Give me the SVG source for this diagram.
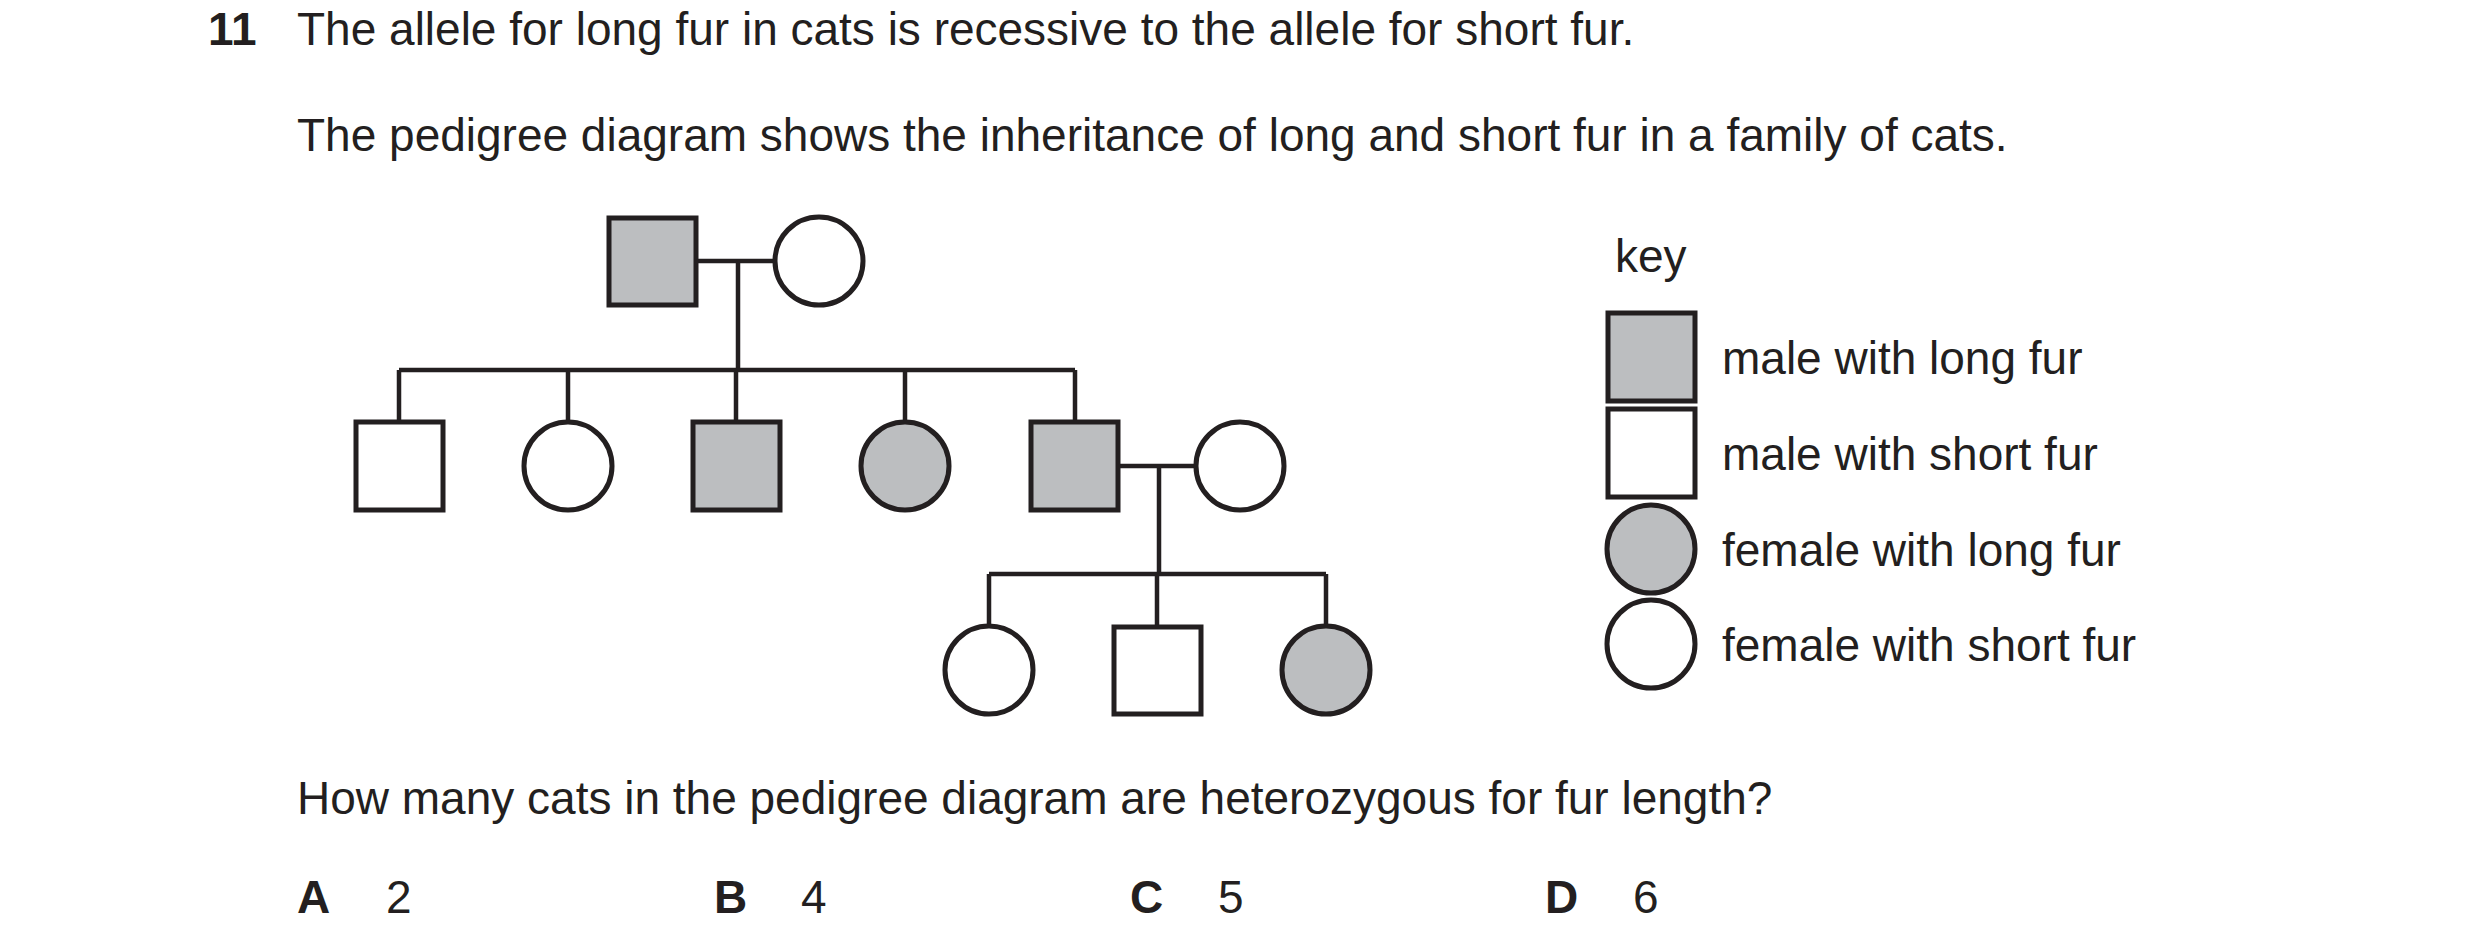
<svg xmlns="http://www.w3.org/2000/svg" width="2480" height="948" viewBox="0 0 2480 948">
<style>
text{font-family:"Liberation Sans",Arial,sans-serif;font-size:46px;fill:#231f20}
.b{font-weight:bold}
.s{stroke:#231f20;stroke-width:5;fill:#fff}
.g{fill:#bcbec0}
.l{stroke:#231f20;stroke-width:4.5;fill:none}
</style>
<rect width="2480" height="948" fill="#fff"/>
<text x="208" y="45" class="b">11</text>
<text x="297" y="45">The allele for long fur in cats is recessive to the allele for short fur.</text>
<text x="297" y="151">The pedigree diagram shows the inheritance of long and short fur in a family of cats.</text>
<g id="connectors">
<path class="l" d="M696 261H775M738 261V370M399 370H1075M399 370V421M568 370V421M736 370V421M905 370V421M1075 370V421M1118 466H1196M1159 466V574M989 574H1326M989 574V626M1157 574V626M1326 574V626"/>
</g>
<g id="gf"><rect class="s g" x="609" y="218" width="87" height="87"/></g>
<g id="gm"><circle class="s" cx="819" cy="261" r="44"/></g>
<g id="c1"><rect class="s" x="356" y="422" width="87" height="88"/></g>
<g id="c2"><circle class="s" cx="568" cy="466" r="44"/></g>
<g id="c3"><rect class="s g" x="693" y="422" width="87" height="88"/></g>
<g id="c4"><circle class="s g" cx="905" cy="466" r="44"/></g>
<g id="c5"><rect class="s g" x="1031" y="422" width="87" height="88"/></g>
<g id="mate"><circle class="s" cx="1240" cy="466" r="44"/></g>
<g id="gc1"><circle class="s" cx="989" cy="670" r="44"/></g>
<g id="gc2"><rect class="s" x="1114" y="627" width="87" height="87"/></g>
<g id="gc3"><circle class="s g" cx="1326" cy="670" r="44"/></g>
<g id="key">
<text x="1615" y="272">key</text>
<rect class="s g" x="1608" y="313" width="87" height="88"/>
<rect class="s" x="1608" y="409" width="87" height="88"/>
<circle class="s g" cx="1651" cy="549" r="44"/>
<circle class="s" cx="1651" cy="644" r="44"/>
<text x="1722" y="374">male with long fur</text>
<text x="1722" y="470">male with short fur</text>
<text x="1722" y="566">female with long fur</text>
<text x="1722" y="661">female with short fur</text>
</g>
<text x="297" y="814">How many cats in the pedigree diagram are heterozygous for fur length?</text>
<text x="297" y="913" class="b">A</text><text x="386" y="913">2</text>
<text x="714" y="913" class="b">B</text><text x="801" y="913">4</text>
<text x="1130" y="913" class="b">C</text><text x="1218" y="913">5</text>
<text x="1545" y="913" class="b">D</text><text x="1633" y="913">6</text>
</svg>
